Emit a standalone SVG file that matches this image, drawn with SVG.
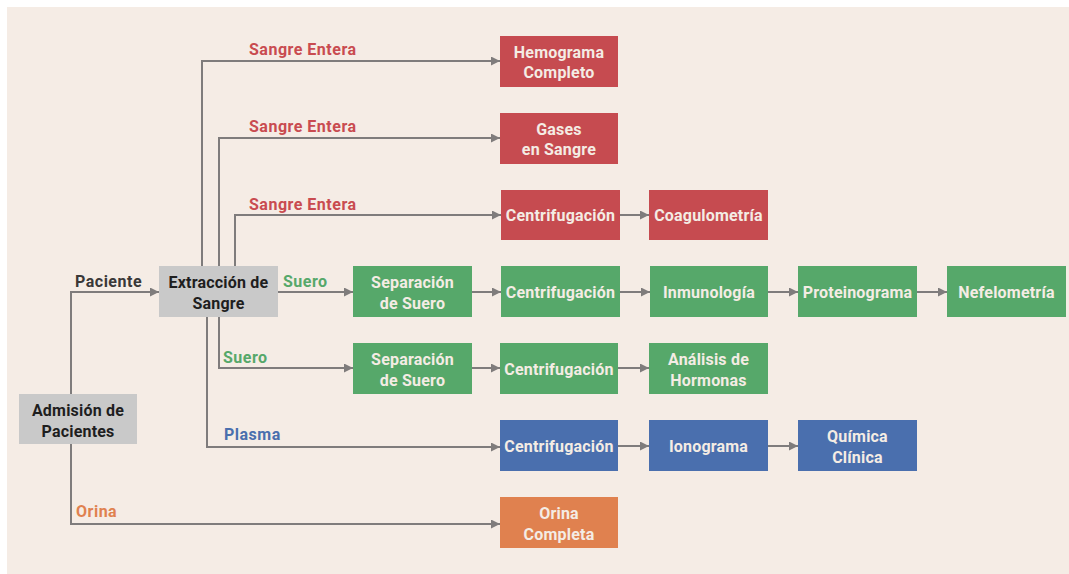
<svg xmlns="http://www.w3.org/2000/svg" width="1069" height="574" viewBox="0 0 1069 574">
  <style>
    .bg { fill: #F5ECE5; }
    .node text { font-family: Roboto, "Liberation Sans", sans-serif; font-weight: 700; font-size: 16px; letter-spacing: 0.2px; text-anchor: middle; }
    .red rect { fill: #C64B50; }
    .green rect { fill: #56A86A; }
    .blue rect { fill: #4A6FAE; }
    .orange rect { fill: #E0814F; }
    .gray rect { fill: #C9C9C9; }
    .red text, .green text, .blue text, .orange text { fill: #F4ECE4; }
    .gray text { fill: #1E1E1E; }
    .edges path { fill: none; stroke: #7F7C7C; stroke-width: 2; marker-end: url(#arr); }
    .lbl { font-family: Roboto, "Liberation Sans", sans-serif; font-weight: 700; font-size: 16px; letter-spacing: 0.5px; }
    .lr { fill: #C94B50; }
    .lg { fill: #56A86A; }
    .lb { fill: #4A6FAE; }
    .lo { fill: #E0814F; }
    .lk { fill: #3A3838; }
  </style>
  <defs>
    <marker id="arr" viewBox="0 0 10 10" refX="10" refY="5" markerWidth="4.5" markerHeight="4.5" orient="auto" markerUnits="strokeWidth">
      <path d="M0,0 L10,5 L0,10 z" fill="#7F7C7C"/>
    </marker>
  </defs>

  <rect x="0" y="0" width="1069" height="574" fill="#ffffff"/>
  <rect class="bg" x="7" y="7" width="1062" height="567"/>

  <!-- connectors -->
  <g class="edges">
    <path d="M71,394 V292 H159"/>
    <path d="M71,444 V524 H500"/>
    <path d="M202,266 V61 H500"/>
    <path d="M219,266 V138 H500"/>
    <path d="M235,266 V215 H501"/>
    <path d="M620,215 H649"/>
    <path d="M278,292 H353"/>
    <path d="M472,292 H501"/>
    <path d="M620,292 H650"/>
    <path d="M768,292 H798"/>
    <path d="M917,292 H947"/>
    <path d="M219,317 V368 H353"/>
    <path d="M472,368 H500"/>
    <path d="M618,368 H649"/>
    <path d="M207,317 V447 H500"/>
    <path d="M618,446 H649"/>
    <path d="M768,446 H798"/>
  </g>

  <!-- connector labels -->
  <g id="labels">
    <text class="lbl lr" x="249" y="55">Sangre Entera</text>
    <text class="lbl lr" x="249" y="132">Sangre Entera</text>
    <text class="lbl lr" x="249" y="210">Sangre Entera</text>
    <text class="lbl lk" x="75" y="287">Paciente</text>
    <text class="lbl lg" x="283" y="287">Suero</text>
    <text class="lbl lg" x="223" y="363">Suero</text>
    <text class="lbl lb" x="224" y="440">Plasma</text>
    <text class="lbl lo" x="76" y="517">Orina</text>
  </g>

  <!-- nodes -->
  <g id="admision" class="node gray">
    <rect x="19" y="394" width="118" height="50"/>
    <text x="78" y="416">Admisión de</text>
    <text x="78" y="437">Pacientes</text>
  </g>
  <g id="extraccion" class="node gray">
    <rect x="159" y="266" width="119" height="51"/>
    <text x="218.5" y="288">Extracción de</text>
    <text x="218.5" y="309">Sangre</text>
  </g>

  <g id="hemograma" class="node red">
    <rect x="500" y="36" width="118" height="51"/>
    <text x="559" y="58">Hemograma</text>
    <text x="559" y="78">Completo</text>
  </g>
  <g id="gases" class="node red">
    <rect x="500" y="113" width="118" height="51"/>
    <text x="559" y="135">Gases</text>
    <text x="559" y="155">en Sangre</text>
  </g>
  <g id="centrif-coag" class="node red">
    <rect x="501" y="190" width="119" height="50"/>
    <text x="560.5" y="221">Centrifugación</text>
  </g>
  <g id="coagulometria" class="node red">
    <rect x="649" y="190" width="119" height="50"/>
    <text x="708.5" y="221">Coagulometría</text>
  </g>

  <g id="separacion-1" class="node green">
    <rect x="353" y="266" width="119" height="51"/>
    <text x="412.5" y="288">Separación</text>
    <text x="412.5" y="309">de Suero</text>
  </g>
  <g id="centrif-inmuno" class="node green">
    <rect x="501" y="266" width="119" height="51"/>
    <text x="560.5" y="298">Centrifugación</text>
  </g>
  <g id="inmunologia" class="node green">
    <rect x="650" y="266" width="118" height="51"/>
    <text x="709" y="298">Inmunología</text>
  </g>
  <g id="proteinograma" class="node green">
    <rect x="798" y="266" width="119" height="51"/>
    <text x="857.5" y="298">Proteinograma</text>
  </g>
  <g id="nefelometria" class="node green">
    <rect x="947" y="266" width="119" height="51"/>
    <text x="1006.5" y="298">Nefelometría</text>
  </g>

  <g id="separacion-2" class="node green">
    <rect x="353" y="343" width="119" height="51"/>
    <text x="412.5" y="365">Separación</text>
    <text x="412.5" y="386">de Suero</text>
  </g>
  <g id="centrif-horm" class="node green">
    <rect x="500" y="343" width="118" height="51"/>
    <text x="559" y="375">Centrifugación</text>
  </g>
  <g id="hormonas" class="node green">
    <rect x="649" y="343" width="119" height="51"/>
    <text x="708.5" y="365">Análisis de</text>
    <text x="708.5" y="386">Hormonas</text>
  </g>

  <g id="centrif-plasma" class="node blue">
    <rect x="500" y="420" width="118" height="51"/>
    <text x="559" y="452">Centrifugación</text>
  </g>
  <g id="ionograma" class="node blue">
    <rect x="649" y="420" width="119" height="51"/>
    <text x="708.5" y="452">Ionograma</text>
  </g>
  <g id="quimica" class="node blue">
    <rect x="798" y="420" width="119" height="51"/>
    <text x="857.5" y="442">Química</text>
    <text x="857.5" y="463">Clínica</text>
  </g>

  <g id="orina" class="node orange">
    <rect x="500" y="497" width="118" height="51"/>
    <text x="559" y="519">Orina</text>
    <text x="559" y="540">Completa</text>
  </g>
</svg>
